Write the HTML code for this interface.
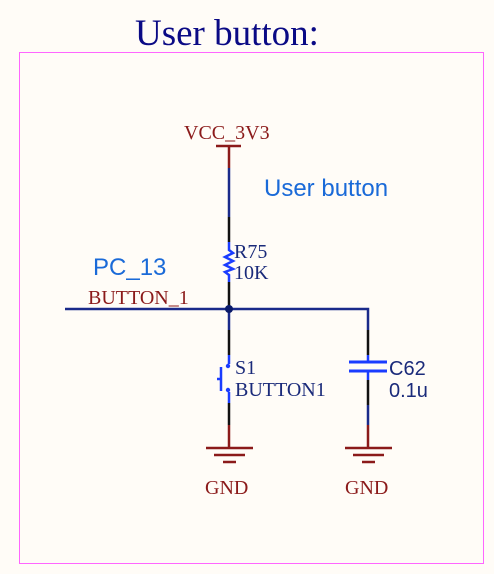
<!DOCTYPE html>
<html><head><style>
html,body{margin:0;padding:0;background:#fffcf7;}
svg{display:block}
.s{font-family:"Liberation Serif",serif}
.a{font-family:"Liberation Sans",sans-serif}
</style></head><body>
<svg width="494" height="574" viewBox="0 0 494 574" xmlns="http://www.w3.org/2000/svg">
<rect width="494" height="574" fill="#fffcf7"/>
<text x="135" y="45" class="s" font-size="37" fill="#0a0a85">User button:</text>
<rect x="19.5" y="52.5" width="464" height="511" fill="none" stroke="#ff66ff" stroke-width="1"/>
<g stroke-width="2.5" fill="none">
<line x1="216" y1="146" x2="241" y2="146" stroke="#8b1a1a"/>
<line x1="229" y1="146" x2="229" y2="168" stroke="#8b1a1a"/>
<line x1="229" y1="168" x2="229" y2="217" stroke="#1a2a8a"/>
<line x1="229" y1="217" x2="229" y2="242" stroke="#111"/>
<polyline points="229,242 229,250 233,253 225,257 233,261 225,265 233,269 225,272 229,275 229,282" stroke="#1a3cff"/>
<line x1="229" y1="282" x2="229" y2="309" stroke="#111"/>
<polyline points="65,309 368,309 368,330" stroke="#1a2a8a"/>
<line x1="368" y1="330" x2="368" y2="355" stroke="#111"/>
<line x1="368" y1="355" x2="368" y2="362" stroke="#1a3cff"/>
<line x1="349" y1="362" x2="387" y2="362" stroke="#1a3cff" stroke-width="3"/>
<line x1="349" y1="371" x2="387" y2="371" stroke="#1a3cff" stroke-width="3"/>
<line x1="368" y1="371" x2="368" y2="380" stroke="#1a3cff"/>
<line x1="368" y1="380" x2="368" y2="405" stroke="#111"/>
<line x1="368" y1="405" x2="368" y2="425" stroke="#1a2a8a"/>
<line x1="368" y1="425" x2="368" y2="448" stroke="#8b1a1a"/>
<line x1="345" y1="448" x2="392" y2="448" stroke="#8b1a1a"/>
<line x1="353" y1="455" x2="384" y2="455" stroke="#8b1a1a"/>
<line x1="362" y1="462" x2="375" y2="462" stroke="#8b1a1a"/>
<line x1="229" y1="309" x2="229" y2="330" stroke="#1a2a8a"/>
<line x1="229" y1="330" x2="229" y2="355" stroke="#111"/>
<line x1="229" y1="355" x2="229" y2="364" stroke="#1a3cff"/>
<line x1="221" y1="367" x2="221" y2="391" stroke="#1a3cff"/>
<line x1="217" y1="379" x2="221" y2="379" stroke="#1a3cff"/>
<line x1="229" y1="392" x2="229" y2="403" stroke="#1a3cff"/>
<line x1="229" y1="403" x2="229" y2="425" stroke="#111"/>
<line x1="229" y1="425" x2="229" y2="448" stroke="#8b1a1a"/>
<line x1="206" y1="448" x2="253" y2="448" stroke="#8b1a1a"/>
<line x1="214" y1="455" x2="245" y2="455" stroke="#8b1a1a"/>
<line x1="223" y1="462" x2="236" y2="462" stroke="#8b1a1a"/>
</g>
<circle cx="229" cy="309" r="4" fill="#0a1a6a"/>
<circle cx="228" cy="366" r="2.2" fill="#1a3cff"/>
<circle cx="228" cy="390" r="2.2" fill="#1a3cff"/>
<text x="184" y="139" class="s" font-size="20" fill="#8b1a1a">VCC_3V3</text>
<text x="264" y="196" class="a" font-size="24" fill="#1a6ad8">User button</text>
<text x="234" y="258" class="s" font-size="20" fill="#1a2a7a">R75</text>
<text x="234" y="279" class="s" font-size="20" fill="#1a2a7a">10K</text>
<text x="93" y="275" class="a" font-size="24" fill="#1a6ad8">PC_13</text>
<text x="88" y="304" class="s" font-size="20" fill="#8b1a1a">BUTTON_1</text>
<text x="235" y="374" class="s" font-size="20" fill="#1a2a7a">S1</text>
<text x="235" y="396" class="s" font-size="20" fill="#1a2a7a">BUTTON1</text>
<text x="389" y="375" class="a" font-size="20" fill="#1a2a7a">C62</text>
<text x="389" y="397" class="a" font-size="20" fill="#1a2a7a">0.1u</text>
<text x="205" y="494" class="s" font-size="20" fill="#8b1a1a">GND</text>
<text x="345" y="494" class="s" font-size="20" fill="#8b1a1a">GND</text>
</svg>
</body></html>
